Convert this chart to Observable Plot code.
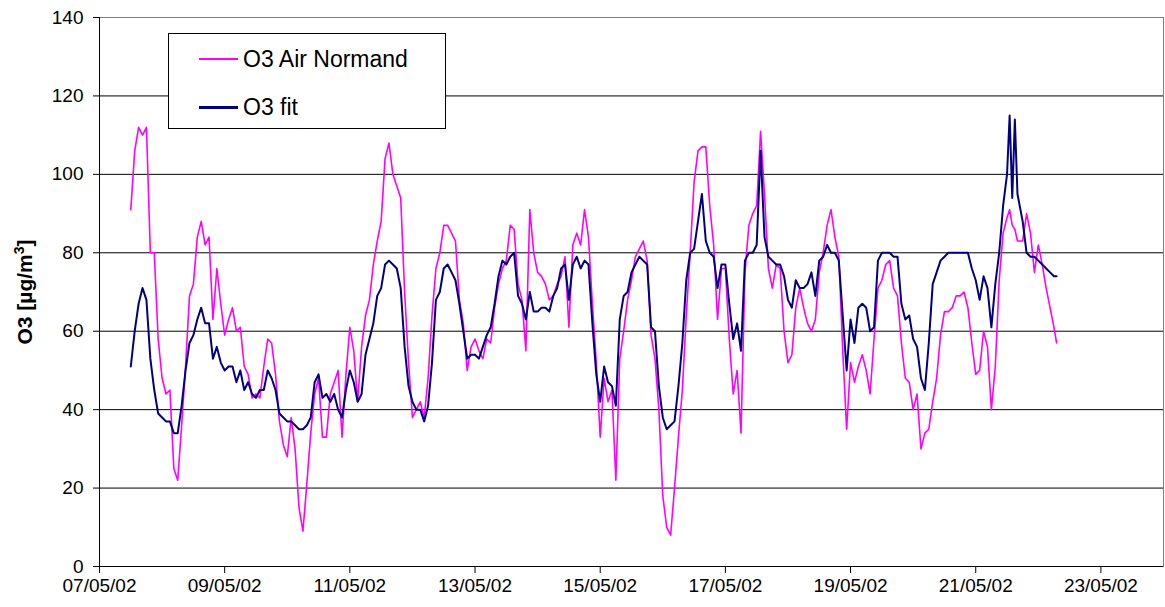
<!DOCTYPE html>
<html><head><meta charset="utf-8">
<script src="https://cdn.jsdelivr.net/npm/d3@7"></script>
<script src="https://cdn.jsdelivr.net/npm/@observablehq/plot@0.6"></script>
<style>
body{margin:0;background:#fff;font-family:"Liberation Sans",Arial,sans-serif;}
#wrap{position:relative;width:1165px;height:607px;}
#legend{position:absolute;left:168px;top:33px;width:276px;height:94px;border:1px solid #000;background:#fff;}
.item{position:absolute;left:30px;height:30px;display:flex;align-items:center;font-size:23px;color:#000;white-space:nowrap;}
.sw{width:39px;height:0;margin-right:5px;}
</style></head><body><div id="wrap"><div id="legend"></div></div>
<script>
// hours since 07/05/02 00:00
const hours = [
  12,13.5,15,16.5,18,19.5,21,22.5,24,25.5,
  27,28.5,30,31.5,33,34.5,36,37.5,39,40.5,
  42,43.5,45,46.5,48,49.5,51,52.5,54,55.5,
  57,58.5,60,61.5,63,64.5,66,67.5,69,70.5,
  72,73.5,75,76.5,78,79.5,81,82.5,84,85.5,
  87,88.5,90,91.5,93,94.5,96,97.5,99,100.5,
  102,103.5,105,106.5,108,109.5,111,112.5,114,115.5,
  117,118.5,120,121.5,123,124.5,126,127.5,129,130.5,
  132,133.5,135,136.5,138,139.5,141,142.5,144,145.5,
  147,148.5,150,151.5,153,154.5,156,157.5,159,160.5,
  162,163.5,165,166.5,168,169.5,171,172.5,174,175.5,
  177,178.5,180,181.5,183,184.5,186,187.5,189,190.5,
  192,193.5,195,196.5,198,199.5,201,202.5,204,205.5,
  207,208.5,210,211.5,213,214.5,216,217.5,219,220.5,
  222,223.5,225,226.5,228,229.5,231,232.5,234,235.5,
  237,238.5,240,241.5,243,244.5,246,247.5,249,250.5,
  252,253.5,255,256.5,258,259.5,261,262.5,264,265.5,
  267,268.5,270,271.5,273,274.5,276,277.5,279,280.5,
  282,283.5,285,286.5,288,289.5,291,292.5,294,295.5,
  297,298.5,300,301.5,303,304.5,306,307.5,309,310.5,
  312,313.5,315,316.5,318,319.5,321,322.5,324,325.5,
  327,328.5,330,331.5,333,334.5,336,337.5,339,340.5,
  342,343.5,345,346.5,348,349,350,351,352,354,
  355.5,357,358.5,360,361.5,363,364.5,366,367];
const airNormand = [
  91,106,112,110,112,80,80,58,48,44,
  45,25,22,36,51,69,72,84,88,82,
  84,63,76,67,59,63,66,60,61,51,
  49,43,44,43,51,58,57,49,37,31,
  28,38,30,15,9,21,34,44,48,33,
  33,44,47,50,33,49,61,55,42,56,
  64,68,77,83,88,104,108,100,97,94,
  70,52,38,40,42,38,48,64,76,80,
  87,87,85,83,68,62,50,56,58,55,
  53,58,57,66,72,76,78,87,86,72,
  68,55,91,80,75,74,72,68,69,72,
  74,79,61,82,85,82,91,84,67,52,
  33,48,42,45,22,53,60,68,73,79,
  81,83,78,59,53,40,18,10,8,20,
  33,45,64,80,98,106,107,107,92,82,
  63,76,76,58,44,50,34,75,87,90,
  92,111,95,76,71,77,76,60,52,54,
  66,71,66,62,60,63,75,80,87,91,
  84,79,55,35,52,47,51,54,50,44,
  58,71,73,77,78,71,69,57,48,47,
  40,44,30,34,35,42,48,59,65,65,
  66,69,69,70,66,57,49,50,60,56,
  40,51,73,85,89,91,87,86,83,83,
  90,85,75,82,77,71,66,61,57];
const o3Fit = [
  51,60,67,71,68,53,45,39,38,37,
  37,34,34,41,50,57,59,63,66,62,
  62,53,56,52,50,51,51,47,50,45,
  47,44,43,45,45,50,48,45,39,38,
  37,37,36,35,35,36,38,47,49,43,
  44,42,44,40,38,45,50,47,42,44,
  54,58,62,69,71,77,78,77,76,71,
  56,46,42,40,40,37,41,52,68,70,
  76,77,75,73,67,60,53,54,54,53,
  56,59,61,67,74,78,77,79,80,69,
  67,63,70,65,65,66,66,65,69,71,
  76,77,68,77,79,76,78,77,62,49,
  42,51,47,46,41,63,69,70,75,77,
  79,78,77,61,60,46,38,35,36,37,
  46,57,73,80,81,88,95,83,80,79,
  71,77,77,67,58,62,55,78,80,80,
  82,106,84,79,78,77,77,74,68,66,
  73,71,71,72,75,69,78,79,82,80,
  80,78,64,50,63,57,66,67,66,60,
  61,78,80,80,80,79,79,67,63,64,
  58,56,48,45,57,72,75,78,79,80,
  80,80,80,80,80,76,73,68,74,71,
  61,72,80,92,100,115,94,114,95,88,
  80,79,79,78,77,76,75,74,74];
const tickLabels = ["07/05/02","09/05/02","11/05/02","13/05/02","15/05/02","17/05/02","19/05/02","21/05/02","23/05/02"];
const domainLabels = ["07/05/02","24/05/02"];
const yTicks = [0,20,40,60,80,100,120,140];
const seriesNames = ["O3 Air Normand","O3 fit"];
const seriesColors = ["#FF00FF","#000080"];

const parse = d3.utcParse("%d/%m/%y");
const start = parse("07/05/02").getTime();
const rows = hours.map((h,i)=>({time:new Date(start + h*3600e3), air:airNormand[i], fit:o3Fit[i]}));
const tickDates = tickLabels.map(parse);

const chart = Plot.plot({
  width:1165, height:607, marginLeft:99, marginRight:2, marginTop:17, marginBottom:41,
  style:{fontFamily:"'Liberation Sans', Arial, sans-serif", fontSize:"19px", background:"#fff", color:"#000", overflow:"visible"},
  x:{type:"utc", domain:domainLabels.map(parse)},
  y:{domain:[0,140]},
  marks:[
    Plot.gridY(yTicks,{stroke:"#000",strokeOpacity:1}),
    Plot.frame({stroke:"#808080"}),
    Plot.line(rows,{x:"time",y:"air",stroke:seriesColors[0],strokeWidth:1.6}),
    Plot.line(rows,{x:"time",y:"fit",stroke:seriesColors[1],strokeWidth:2}),
    Plot.ruleY([0],{stroke:"#000"}),
    Plot.ruleX([parse(domainLabels[0])],{stroke:"#000"}),
    Plot.axisY(yTicks,{tickSize:6, tickPadding:10, fontSize:19, label:"O3 [µg/m3]", labelAnchor:"center", labelArrow:"none", labelOffset:82}),
    Plot.axisX(tickDates,{tickSize:7, tickPadding:5, fontSize:19, tickFormat:(d,i)=>tickLabels[i], label:null})
  ]
});
document.getElementById("wrap").prepend(chart);
const lab = chart.querySelector('g[aria-label="y-axis label"] text');
if (lab) {
  lab.style.fontWeight = "bold";
  lab.style.fontSize = "21px";
  const full = lab.textContent;           // "O3 [µg/m3]"
  const main = full.slice(0, full.length - 2);
  const sup = full.slice(full.length - 2, full.length - 1);
  const close = full.slice(full.length - 1);
  lab.textContent = main;
  const ns = "http://www.w3.org/2000/svg";
  const t1 = document.createElementNS(ns, "tspan");
  t1.setAttribute("dy", "-8");
  t1.style.fontSize = "14px";
  t1.textContent = sup;
  const t2 = document.createElementNS(ns, "tspan");
  t2.setAttribute("dy", "8");
  t2.textContent = close;
  lab.appendChild(t1);
  lab.appendChild(t2);
}

const legend = document.getElementById("legend");
seriesNames.forEach((n,i)=>{
  const it = document.createElement("div");
  it.className = "item";
  it.style.top = (i===0 ? 10 : 58) + "px";
  const sw = document.createElement("span");
  sw.className = "sw";
  sw.style.borderTop = (i===0?"2px":"3px") + " solid " + seriesColors[i];
  it.appendChild(sw);
  it.appendChild(document.createTextNode(n));
  legend.appendChild(it);
});
</script>
</body></html>
